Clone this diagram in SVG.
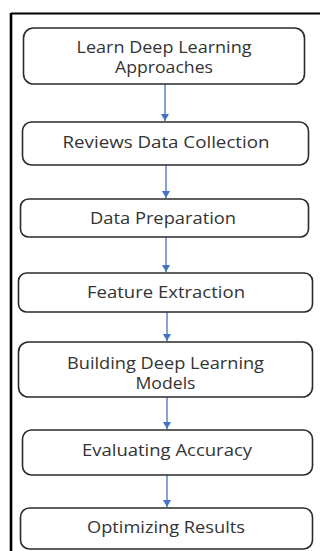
<svg xmlns="http://www.w3.org/2000/svg" width="320" height="551" viewBox="0 0 320 551">
<style>
.box{fill:#fff;stroke:#2a2a2a;stroke-width:1.6}
.t{font-family:"Open Sans","Liberation Sans",sans-serif;font-size:16px;fill:#333;text-anchor:middle}
.c{stroke:#4472C4;stroke-width:1.3;fill:none}
.frame{stroke:#000;fill:none}
</style>
<defs>
<marker id="ah" markerWidth="8" markerHeight="8" refX="7" refY="4" orient="auto" markerUnits="userSpaceOnUse">
<path d="M0,0 L7,4 L0,8 Z" fill="#4472C4"/>
</marker>
</defs>
<rect width="320" height="551" fill="#fff"/>
<line class="frame" x1="11" y1="13.5" x2="322" y2="13.5" stroke-width="2"/>
<line class="frame" x1="11" y1="13" x2="11" y2="551" stroke-width="2.6"/>
<g id="connectors">
<line class="c" x1="165" y1="84" x2="165" y2="121" marker-end="url(#ah)"/>
<line class="c" x1="166" y1="165" x2="166" y2="198" marker-end="url(#ah)"/>
<line class="c" x1="166" y1="237" x2="166" y2="272" marker-end="url(#ah)"/>
<line class="c" x1="167" y1="312" x2="167" y2="341" marker-end="url(#ah)"/>
<line class="c" x1="167" y1="397" x2="167" y2="429" marker-end="url(#ah)"/>
<line class="c" x1="167" y1="475" x2="167" y2="507" marker-end="url(#ah)"/>
</g>
<g id="n1"><rect class="box" x="23.5" y="28" width="281" height="56" rx="10"/>
<text class="t" x="164" y="53" textLength="175" lengthAdjust="spacingAndGlyphs">Learn Deep Learning</text>
<text class="t" x="164" y="73" textLength="98" lengthAdjust="spacingAndGlyphs">Approaches</text></g>
<g id="n2"><rect class="box" x="22.5" y="122" width="286" height="43" rx="9"/>
<text class="t" x="166" y="148" textLength="207" lengthAdjust="spacingAndGlyphs">Reviews Data Collection</text></g>
<g id="n3"><rect class="box" x="20.5" y="199" width="288" height="38" rx="8"/>
<text class="t" x="163" y="224" textLength="146" lengthAdjust="spacingAndGlyphs">Data Preparation</text></g>
<g id="n4"><rect class="box" x="18.5" y="273" width="294" height="39" rx="8"/>
<text class="t" x="166" y="298" textLength="158" lengthAdjust="spacingAndGlyphs">Feature Extraction</text></g>
<g id="n5"><rect class="box" x="18.5" y="342" width="294" height="55" rx="10"/>
<text class="t" x="165.5" y="369" textLength="197" lengthAdjust="spacingAndGlyphs">Building Deep Learning</text>
<text class="t" x="165.5" y="389" textLength="60" lengthAdjust="spacingAndGlyphs">Models</text></g>
<g id="n6"><rect class="box" x="22.5" y="430" width="290" height="45" rx="9"/>
<text class="t" x="167" y="456" textLength="170" lengthAdjust="spacingAndGlyphs">Evaluating Accuracy</text></g>
<g id="n7"><rect class="box" x="20.5" y="508" width="292" height="41" rx="9"/>
<text class="t" x="166" y="533" textLength="158" lengthAdjust="spacingAndGlyphs">Optimizing Results</text></g>
</svg>
